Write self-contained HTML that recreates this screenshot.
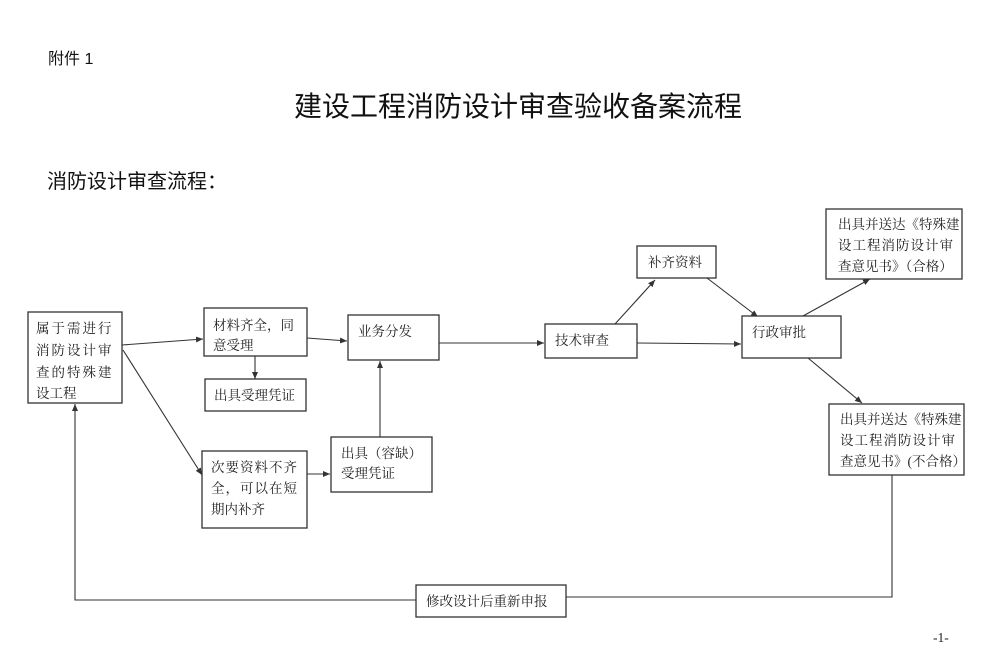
<!DOCTYPE html>
<html><head><meta charset="utf-8"><style>
html,body{margin:0;padding:0;background:#fff;width:1000px;height:665px;overflow:hidden}
svg{display:block}
.s{font-family:"Liberation Serif","Noto Serif CJK SC",serif;font-size:13.5px;fill:#222}
.h{font-family:"Liberation Sans","Noto Sans CJK SC",sans-serif;fill:#111}
rect{fill:#fff;stroke:#333;stroke-width:1.3}
line,polyline{stroke:#333;stroke-width:1.1;fill:none}
</style></head><body>
<svg width="1000" height="665" viewBox="0 0 1000 665" xmlns="http://www.w3.org/2000/svg">
<defs><marker id="a" markerWidth="8" markerHeight="6" refX="7" refY="3" orient="auto" markerUnits="userSpaceOnUse"><path d="M0,0 L7,3 L0,6 Z" fill="#333"/></marker></defs>
<text class="h" x="48" y="64" font-size="16">附件 1</text>
<text class="h" x="294" y="116" font-size="28">建设工程消防设计审查验收备案流程</text>
<text class="h" x="47" y="188" font-size="20">消防设计审查流程：</text>

<line x1="122" y1="345" x2="203" y2="339" marker-end="url(#a)"/>
<line x1="123" y1="350" x2="202" y2="475" marker-end="url(#a)"/>
<line x1="255" y1="356" x2="255" y2="379" marker-end="url(#a)"/>
<line x1="307" y1="338" x2="347" y2="341" marker-end="url(#a)"/>
<line x1="307" y1="474" x2="330" y2="474" marker-end="url(#a)"/>
<line x1="380" y1="437" x2="380" y2="361" marker-end="url(#a)"/>
<line x1="439" y1="343" x2="544" y2="343" marker-end="url(#a)"/>
<line x1="615" y1="324" x2="655" y2="280" marker-end="url(#a)"/>
<line x1="707" y1="278" x2="758" y2="317" marker-end="url(#a)"/>
<line x1="637" y1="343" x2="741" y2="344" marker-end="url(#a)"/>
<line x1="803" y1="316" x2="870" y2="279" marker-end="url(#a)"/>
<line x1="808" y1="358" x2="862" y2="403" marker-end="url(#a)"/>
<polyline points="892,475 892,597 566,597"/>
<polyline points="416,600 75,600 75,404" marker-end="url(#a)"/>

<rect x="28" y="312" width="94" height="91"/>
<text class="s"><tspan x="36" y="333" letter-spacing="2">属于需进行</tspan><tspan x="36" y="355" letter-spacing="2">消防设计审</tspan><tspan x="36" y="377" letter-spacing="2">查的特殊建</tspan><tspan x="36" y="398">设工程</tspan></text>
<rect x="204" y="308" width="103" height="48"/>
<text class="s"><tspan x="213" y="330">材料齐全，同</tspan><tspan x="213" y="350">意受理</tspan></text>
<rect x="205" y="379" width="101" height="32"/>
<text class="s" x="214" y="400">出具受理凭证</text>
<rect x="348" y="315" width="91" height="45"/>
<text class="s" x="358" y="336">业务分发</text>
<rect x="202" y="451" width="105" height="77"/>
<text class="s"><tspan x="211" y="472" letter-spacing="1">次要资料不齐</tspan><tspan x="211" y="493" letter-spacing="1">全，可以在短</tspan><tspan x="211" y="514">期内补齐</tspan></text>
<rect x="331" y="437" width="101" height="55"/>
<text class="s"><tspan x="341" y="458">出具（容缺）</tspan><tspan x="341" y="478">受理凭证</tspan></text>
<rect x="545" y="324" width="92" height="34"/>
<text class="s" x="555" y="345">技术审查</text>
<rect x="637" y="246" width="79" height="32"/>
<text class="s" x="648" y="267">补齐资料</text>
<rect x="742" y="316" width="99" height="42"/>
<text class="s" x="752" y="337">行政审批</text>
<rect x="826" y="209" width="136" height="70"/>
<text class="s" font-size="13"><tspan x="838" y="229">出具并送达《特殊建</tspan><tspan x="838" y="250" letter-spacing="1">设工程消防设计审</tspan><tspan x="838" y="271">查意见书》（合格）</tspan></text>
<rect x="829" y="404" width="135" height="71"/>
<text class="s" font-size="13"><tspan x="840" y="424">出具并送达《特殊建</tspan><tspan x="840" y="445" letter-spacing="1">设工程消防设计审</tspan><tspan x="840" y="466">查意见书》(不合格）</tspan></text>
<rect x="416" y="585" width="150" height="32"/>
<text class="s" x="426" y="606">修改设计后重新申报</text>
<text class="s" x="933" y="642" font-size="16">-1-</text>
</svg>
</body></html>
